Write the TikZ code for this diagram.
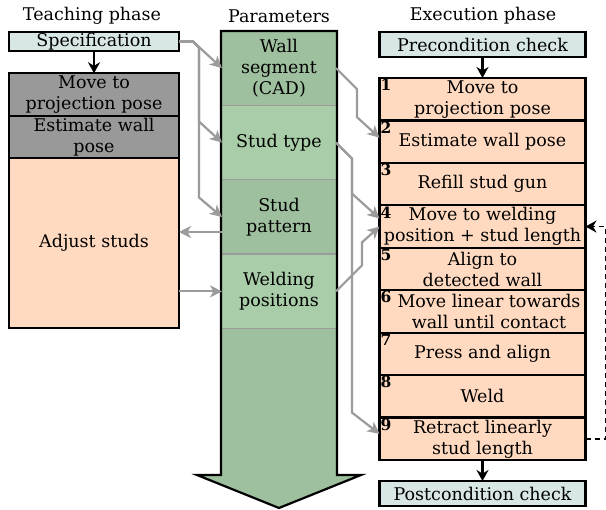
\documentclass[tikz,border=0pt]{standalone}
\usepackage{fontspec}
\setmainfont{DejaVu Serif}
\usetikzlibrary{positioning, arrows.meta, calc}
\definecolor{condblue}{RGB}{216,230,230}
\definecolor{stepbeige}{RGB}{255,218,192}
\definecolor{taskgray}{RGB}{153,153,153}
\definecolor{paramdark}{RGB}{159,192,159}
\definecolor{paramlight}{RGB}{168,205,168}
\definecolor{linkgray}{RGB}{155,155,155}

\begin{document}
\begin{tikzpicture}[x=1pt, y=-1pt,
        font=\fontsize{17.5}{21}\selectfont,
        title/.style={inner sep=0pt},
        cond/.style={rectangle, draw, line width=2.2pt, outer sep=0pt, fill=condblue, minimum height=19pt, inner sep=0pt},
        teach/.style={rectangle, draw, line width=2.2pt, outer sep=0pt, fill=taskgray, minimum width=170pt, minimum height=42.5pt, inner sep=0pt, align=center},
        stepbox/.style={rectangle, draw, line width=2.2pt, outer sep=0pt, fill=stepbeige, minimum width=206pt, minimum height=42.45pt, inner sep=0pt, align=center},
        param/.style={rectangle, outer sep=0pt, minimum width=114pt, minimum height=74.4pt, inner sep=0pt, align=center},
        num/.style={anchor=north west, inner sep=1pt, font=\fontsize{15.5}{18}\selectfont\bfseries},
        arrow/.style={-{Stealth[length=11pt, width=12pt]}, line width=2.2pt},
        link/.style={-{Stealth[length=12pt, width=12pt, inset=3.5pt]}, line width=2.2pt, draw=linkgray},
        sep/.style={draw=linkgray, line width=1.4pt}
    ]
        \useasboundingbox (0,0) rectangle (606,510);

        % Titles
        \node[title] (tteach) at (92,16) {Teaching phase};
        \node[title] (tparam) at (279,16) {Parameters};
        \node[title] (texec) at (483,16) {Execution phase};

        % Teaching phase
        \node[cond, minimum width=170pt] (spec) at (94,41.5) {Specification};
        \node[teach] (moveL) at (94,94.5) {Move to\\ projection pose};
        \node[teach, below=0pt of moveL] (estL) {Estimate wall\\ pose};
        \node[teach, fill=stepbeige, minimum height=170pt, below=0pt of estL] (adjust) {Adjust studs};
        \draw[arrow] (spec) -- (moveL);

        % Parameters
        \path[fill=paramdark] (221,31) -- (337,31) -- (337,475) -- (361,475) -- (279,508) -- (197,475) -- (221,475) -- cycle;
        \node[param] (wall) at (279,68.2) {Wall\\ segment\\ (CAD)};
        \node[param, fill=paramlight, below=0pt of wall] (stype) {Stud type};
        \node[param, below=0pt of stype] (spat) {Stud\\ pattern};
        \node[param, fill=paramlight, below=0pt of spat] (weld) {Welding\\ positions};
        \draw[sep] (wall.south west) -- (wall.south east);
        \draw[sep] (stype.south west) -- (stype.south east);
        \draw[sep] (spat.south west) -- (spat.south east);
        \draw[sep] (weld.south west) -- (weld.south east);
        \draw[line width=2.2pt] (221,31) -- (337,31) -- (337,475) -- (361,475) -- (279,508) -- (197,475) -- (221,475) -- cycle;

        % Execution phase
        \node[cond, minimum width=206pt, minimum height=25pt] (pre) at (482.5,44.5) {Precondition check};
        \node[stepbox, label={[num]north west:1}] (s1) at (482.5,99.2) {Move to\\ projection pose};
        \node[stepbox, label={[num]north west:2}, below=0pt of s1] (s2) {Estimate wall pose};
        \node[stepbox, label={[num]north west:3}, below=0pt of s2] (s3) {Refill stud gun};
        \node[stepbox, label={[num]north west:4}, below=0pt of s3] (s4) {Move to welding\\ position + stud length};
        \node[stepbox, label={[num]north west:5}, below=0pt of s4] (s5) {Align to\\ detected wall};
        \node[stepbox, label={[num]north west:6}, below=0pt of s5] (s6) {\hspace*{13pt}Move linear towards\\ \hspace*{13pt}wall until contact};
        \node[stepbox, label={[num]north west:7}, below=0pt of s6] (s7) {Press and align};
        \node[stepbox, label={[num]north west:8}, below=0pt of s7] (s8) {Weld};
        \node[stepbox, label={[num]north west:9}, below=0pt of s8] (s9) {Retract linearly\\ stud length};
        \node[cond, minimum width=206pt, minimum height=25pt] (post) at (482.5,493.5) {Postcondition check};
        \draw[arrow] (pre) -- (s1);
        \draw[arrow] (s9) -- (post);

        % Loop back
        \draw[arrow, dash pattern=on 5pt off 4pt, line width=1.8pt] (s9.east) -- ++(20,0) |- (s4.east);

        % Parameter links
        \draw[link] (spec.east) -- ++(14,0) -- (wall.west);
        \draw[link] (spec.east) -- ++(14,0) -- ++(6,6) -- ++(0,74) -- (stype.west);
        \draw[link] (spec.east) -- ++(14,0) -- ++(6,6) -- ++(0,150) -- (spat.west);
        \coordinate (padj) at ([yshift=-15pt]spat.west);
        \draw[link] (padj) -- (padj -| adjust.east);
        \draw[link] (adjust.east |- weld.west) -- (weld.west);
        \draw[link] (wall.east) -- ++(21,21) -- ++(0,28) -- ([yshift=4pt]s2.west);
        \draw[link] (stype.east) -- ++(16,16) -- ++(0,254) -- ([yshift=5pt]s9.west);
        \draw[link] (stype.east) -- ++(16,16) -- ++(0,35) -- ([yshift=8pt]s4.west);
        \draw[link] (weld.east) -- ++(26,-26) -- ++(0,-23) -- (s4.west);
    \end{tikzpicture}
\end{document}
